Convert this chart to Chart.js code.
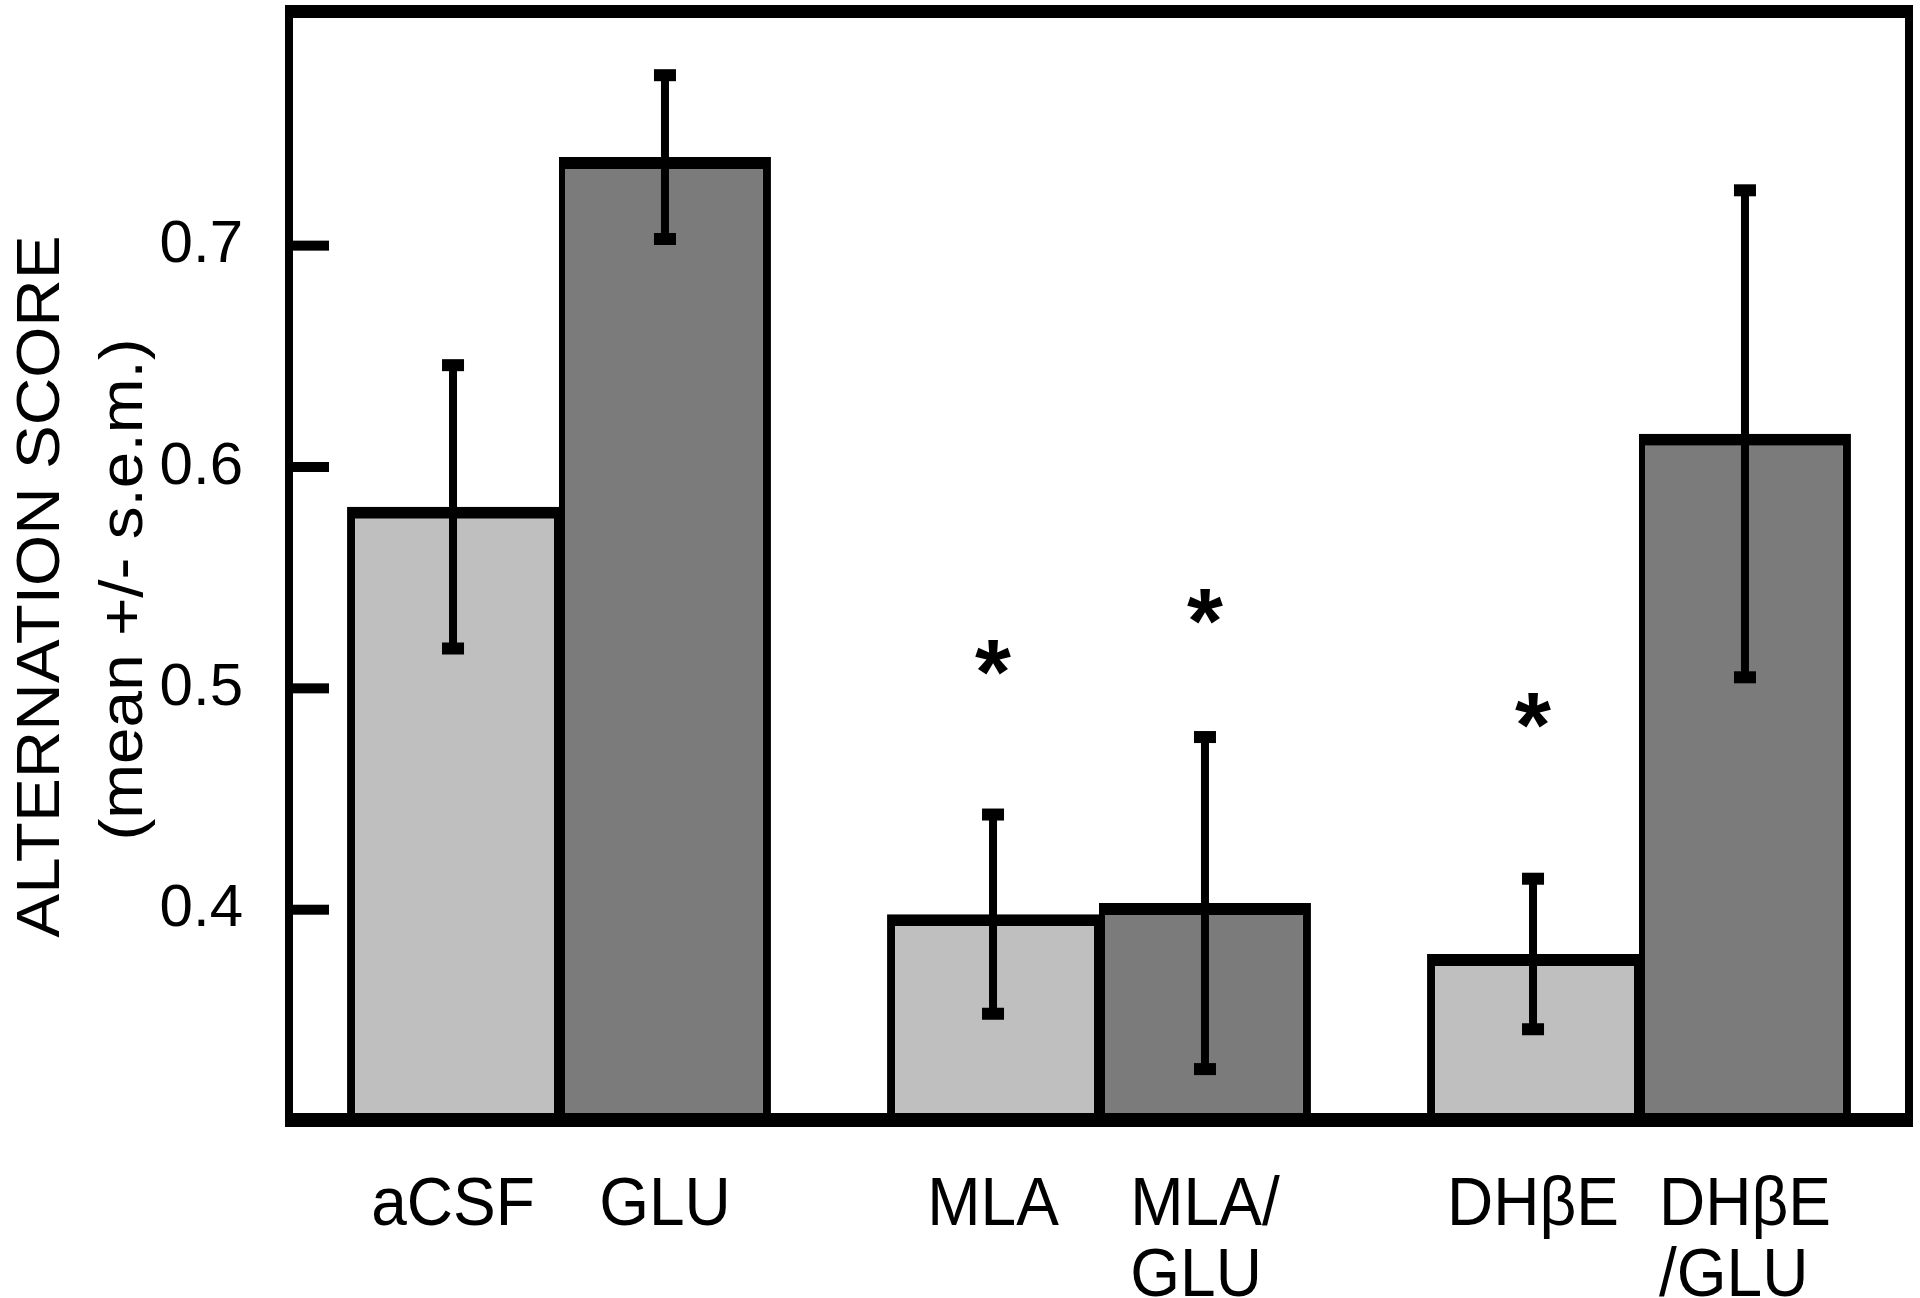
<!DOCTYPE html>
<html>
<head>
<meta charset="utf-8">
<title>Alternation score</title>
<script src="https://cdn.jsdelivr.net/npm/chart.js@4.4.1/dist/chart.umd.min.js"></script>
<style>
  html, body { margin: 0; padding: 0; background: #ffffff; overflow: hidden; }
  canvas { display: block; }
</style>
</head>
<body>
<canvas id="myChart" width="1920" height="1298"></canvas>
<script>
// --- data ---
const groups = ['aCSF', 'MLA', 'DHβE'];
const controlLabels = [['aCSF'], ['MLA'], ['DHβE']];
const gluLabels = [['GLU'], ['MLA/', 'GLU'], ['DHβE', '/GLU']];
const controlMeans = [0.582, 0.398, 0.380];
const controlSem = [0.064, 0.045, 0.034];
const gluMeans = [0.740, 0.403, 0.615];
const gluSem = [0.037, 0.075, 0.110];
// where the significance stars sit (in score units), null = no star
const controlStars = [null, 0.514, 0.490];
const gluStars = [null, 0.537, null];
const yTicks = [0.4, 0.5, 0.6, 0.7];
const yMin = 0.305;
const yMax = 0.806;
const yTitle = ['ALTERNATION SCORE', '(mean +/- s.e.m.)'];

// --- look ---
const FONT = '"Liberation Sans", Arial, Helvetica, sans-serif';
const STRETCH = 1.06; // the original figure is a bit taller than wide
const lightGrey = '#bfbfbf';
const darkGrey = '#7b7b7b';

// draws text a little stretched vertically, like the source picture
function drawText(ctx, text, x, y, font, align, rotate) {
  ctx.save();
  ctx.translate(x, y);
  ctx.scale(1, STRETCH);
  if (rotate) ctx.rotate(-Math.PI / 2);
  ctx.font = font;
  ctx.textAlign = align;
  ctx.textBaseline = 'alphabetic';
  ctx.fillStyle = '#000';
  ctx.fillText(text, 0, 0);
  ctx.restore();
}

const overlay = {
  id: 'overlay',
  afterDatasetsDraw(chart) {
    const ctx = chart.ctx;
    const area = chart.chartArea;
    const y = chart.scales.y;
    const sets = [
      { sem: controlSem, stars: controlStars, labels: controlLabels },
      { sem: gluSem, stars: gluStars, labels: gluLabels }
    ];

    ctx.save();
    ctx.fillStyle = '#000';

    // error bars
    sets.forEach((s, i) => {
      const meta = chart.getDatasetMeta(i);
      meta.data.forEach((bar, j) => {
        const v = chart.data.datasets[i].data[j];
        const top = y.getPixelForValue(v + s.sem[j]);
        const bot = y.getPixelForValue(v - s.sem[j]);
        ctx.fillRect(bar.x - 4, top, 8, bot - top);
        ctx.fillRect(bar.x - 11, top - 6, 22, 12);
        ctx.fillRect(bar.x - 11, bot - 6, 22, 12);
      });
    });

    // significance stars
    ctx.font = 'bold 100px ' + FONT;
    const m = ctx.measureText('*');
    const starSize = 100 * 36 / (m.actualBoundingBoxRight + m.actualBoundingBoxLeft);
    ctx.font = 'bold ' + starSize.toFixed(1) + 'px ' + FONT;
    const sm = ctx.measureText('*');
    sets.forEach((s, i) => {
      const meta = chart.getDatasetMeta(i);
      meta.data.forEach((bar, j) => {
        if (s.stars[j] === null) return;
        const cy = y.getPixelForValue(s.stars[j]);
        const base = cy + (sm.actualBoundingBoxAscent - sm.actualBoundingBoxDescent) / 2;
        const cx = bar.x - (sm.actualBoundingBoxRight - sm.actualBoundingBoxLeft) / 2;
        ctx.textAlign = 'left';
        ctx.fillText('*', cx, base);
      });
    });

    // tick marks pointing into the plot
    yTicks.forEach(t => {
      const py = y.getPixelForValue(t);
      ctx.fillRect(area.left, py - 5, 40, 10);
    });

    // frame
    const w = area.right - area.left;
    const h = area.bottom - area.top;
    ctx.fillRect(area.left - 4, area.top - 6, w + 8, 13);
    ctx.fillRect(area.left - 4, area.bottom - 7, w + 8, 14);
    ctx.fillRect(area.left - 4, area.top, 8, h);
    ctx.fillRect(area.right - 4, area.top, 8, h);

    // bar labels under the axis (first line centred, the rest left aligned)
    const labelFont = '64px ' + FONT;
    ctx.font = labelFont;
    sets.forEach((s, i) => {
      const meta = chart.getDatasetMeta(i);
      meta.data.forEach((bar, j) => {
        const lines = s.labels[j];
        const w0 = ctx.measureText(lines[0]).width;
        lines.forEach((line, k) => {
          if (k === 0) drawText(ctx, line, bar.x, 1225, labelFont, 'center', false);
          else drawText(ctx, line, bar.x - w0 / 2, 1225 + 71 * k, labelFont, 'left', false);
        });
      });
    });

    // y axis title, two lines rotated
    const cy = (area.top + area.bottom) / 2 + 21;
    drawText(ctx, yTitle[0], 59, cy, '62px ' + FONT, 'center', true);
    drawText(ctx, yTitle[1], 142, cy + 3, '62px ' + FONT, 'center', true);

    ctx.restore();
  }
};

const ctx = document.getElementById('myChart').getContext('2d');
const myChart = new Chart(ctx, {
  type: 'bar',
  data: {
    labels: groups,
    datasets: [{
      label: 'vehicle',
      data: controlMeans,
      backgroundColor: lightGrey,
      borderColor: '#000',
      borderWidth: { top: 12, left: 8, right: 5, bottom: 0 },
      clip: 0
    }, {
      label: 'GLU',
      data: gluMeans,
      backgroundColor: darkGrey,
      borderColor: '#000',
      borderWidth: { top: 12, left: 6, right: 8, bottom: 0 },
      clip: 0
    }]
  },
  options: {
    responsive: false,
    animation: false,
    devicePixelRatio: 1,
    categoryPercentage: 0.785,
    barPercentage: 1,
    layout: { padding: { top: 11, right: 11, left: 0, bottom: 0 } },
    plugins: {
      legend: { display: false },
      tooltip: { enabled: false }
    },
    scales: {
      x: {
        grid: { display: false },
        border: { display: false },
        ticks: { display: false },
        afterFit: (scale) => { scale.height = 178; }
      },
      y: {
        min: yMin,
        max: yMax,
        grid: { display: false },
        border: { display: false },
        ticks: {
          color: '#000',
          padding: 38,
          font: { family: FONT, size: 60 },
          callback: (v) => v.toFixed(1)
        },
        afterBuildTicks: (axis) => { axis.ticks = yTicks.map(v => ({ value: v })); },
        afterFit: (scale) => {
          scale.width = 289;
          scale.paddingTop = 0;
          scale.paddingBottom = 0;
        }
      }
    }
  },
  plugins: [overlay]
});
</script>
</body>
</html>
